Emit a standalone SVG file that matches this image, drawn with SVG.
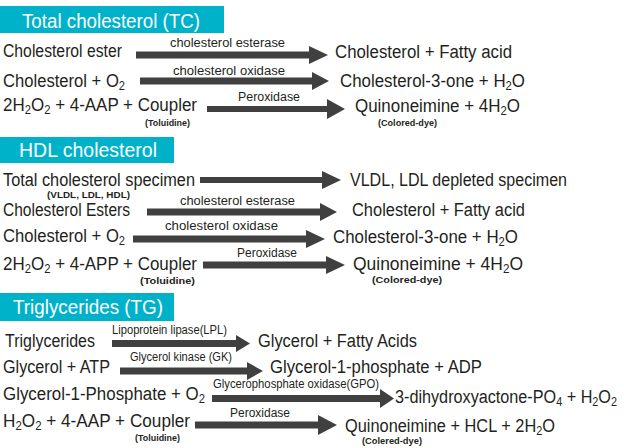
<svg xmlns="http://www.w3.org/2000/svg" width="624" height="448" viewBox="0 0 624 448">
<style>
.t{font-family:"Liberation Sans",Arial,sans-serif;font-size:18px;fill:#231f20}
.l{font-family:"Liberation Sans",Arial,sans-serif;font-size:12.5px;fill:#231f20}
.s{font-family:"Liberation Sans",Arial,sans-serif;font-size:8.5px;font-weight:bold;fill:#231f20}
.h{font-family:"Liberation Sans",Arial,sans-serif;font-size:20px;fill:#ffffff}
.hb{fill:#00b2c9}
.arr{fill:#404040}
</style>
<rect width="624" height="448" fill="#ffffff"/>

<g id="header-tc"><rect class="hb" x="0" y="6" width="224" height="27"/><text class="h" x="22" y="28" textLength="178" lengthAdjust="spacingAndGlyphs">Total cholesterol (TC)</text></g>
<g id="header-hdl"><rect class="hb" x="0" y="137" width="174" height="26"/><text class="h" x="19" y="157" textLength="138" lengthAdjust="spacingAndGlyphs">HDL cholesterol</text></g>
<g id="header-tg"><rect class="hb" x="0" y="293" width="174" height="28"/><text class="h" x="13" y="314" textLength="150" lengthAdjust="spacingAndGlyphs">Triglycerides (TG)</text></g>

<g id="connectors">
<path class="arr" d="M136,51.5H309V46L328,55L309,64V58.5H136Z"/>
<path class="arr" d="M140,77.5H312V72L329,81L312,90V84.5H140Z"/>
<path class="arr" d="M207,106H327V99L345,109L327,119V112H207Z"/>
<path class="arr" d="M200,177H322V171L341,180L322,189V183H200Z"/>
<path class="arr" d="M147,208.5H320V203L337,212L320,221V215.5H147Z"/>
<path class="arr" d="M133,235.5H306V230L325,239L306,248V242.5H133Z"/>
<path class="arr" d="M203,261.5H326V256L345,265L326,274V268.5H203Z"/>
<path class="arr" d="M112,340H236V335L250,343.5L236,352V347H112Z"/>
<path class="arr" d="M120,367.5H247V362L263,371L247,380V374.5H120Z"/>
<path class="arr" d="M212,395H380V389L394,398.5L380,408V402H212Z"/>
<path class="arr" d="M195,421.5H318V415L337,425L318,435V428.5H195Z"/>
</g>

<g id="tc-r1">
<text class="t" x="3" y="57" textLength="119" lengthAdjust="spacingAndGlyphs">Cholesterol ester</text>
<text class="l" x="170" y="47" textLength="115" lengthAdjust="spacingAndGlyphs">cholesterol esterase</text>
<text class="t" x="335" y="58" textLength="177" lengthAdjust="spacingAndGlyphs">Cholesterol + Fatty acid</text>
</g>
<g id="tc-r2">
<text class="t" x="3" y="87" textLength="122" lengthAdjust="spacingAndGlyphs">Cholesterol + O<tspan font-size="12" dy="3">2</tspan></text>
<text class="l" x="173" y="75" textLength="112" lengthAdjust="spacingAndGlyphs">cholesterol oxidase</text>
<text class="t" x="340" y="87" textLength="185" lengthAdjust="spacingAndGlyphs">Cholesterol-3-one + H<tspan font-size="12" dy="3">2</tspan><tspan dy="-3">O</tspan></text>
</g>
<g id="tc-r3">
<text class="t" x="3" y="111" textLength="194" lengthAdjust="spacingAndGlyphs">2H<tspan font-size="12" dy="3">2</tspan><tspan dy="-3">O</tspan><tspan font-size="12" dy="3">2</tspan><tspan dy="-3"> + 4-AAP + Coupler</tspan></text>
<text class="s" x="145" y="126" textLength="45" lengthAdjust="spacingAndGlyphs">(Toluidine)</text>
<text class="l" x="238" y="101" textLength="62" lengthAdjust="spacingAndGlyphs">Peroxidase</text>
<text class="t" x="355" y="112" textLength="165" lengthAdjust="spacingAndGlyphs">Quinoneimine + 4H<tspan font-size="12" dy="3">2</tspan><tspan dy="-3">O</tspan></text>
<text class="s" x="378" y="126" textLength="59" lengthAdjust="spacingAndGlyphs">(Colored-dye)</text>
</g>

<g id="hdl-r1">
<text class="t" x="3" y="186" textLength="192" lengthAdjust="spacingAndGlyphs">Total cholesterol specimen</text>
<text class="s" x="47" y="198" font-size="9" textLength="83" lengthAdjust="spacingAndGlyphs">(VLDL, LDL, HDL)</text>
<text class="t" x="350" y="186" textLength="217" lengthAdjust="spacingAndGlyphs">VLDL, LDL depleted specimen</text>
</g>
<g id="hdl-r2">
<text class="t" x="3" y="216" textLength="127" lengthAdjust="spacingAndGlyphs">Cholesterol Esters</text>
<text class="l" x="180" y="205" textLength="115" lengthAdjust="spacingAndGlyphs">cholesterol esterase</text>
<text class="t" x="352" y="216" textLength="173" lengthAdjust="spacingAndGlyphs">Cholesterol + Fatty acid</text>
</g>
<g id="hdl-r3">
<text class="t" x="3" y="242" textLength="122" lengthAdjust="spacingAndGlyphs">Cholesterol + O<tspan font-size="12" dy="3">2</tspan></text>
<text class="l" x="165" y="230" textLength="113" lengthAdjust="spacingAndGlyphs">cholesterol oxidase</text>
<text class="t" x="333" y="243" textLength="185" lengthAdjust="spacingAndGlyphs">Cholesterol-3-one + H<tspan font-size="12" dy="3">2</tspan><tspan dy="-3">O</tspan></text>
</g>
<g id="hdl-r4">
<text class="t" x="3" y="270" textLength="194" lengthAdjust="spacingAndGlyphs">2H<tspan font-size="12" dy="3">2</tspan><tspan dy="-3">O</tspan><tspan font-size="12" dy="3">2</tspan><tspan dy="-3"> + 4-APP + Coupler</tspan></text>
<text class="s" x="140" y="284" font-size="9" textLength="55" lengthAdjust="spacingAndGlyphs">(Toluidine)</text>
<text class="l" x="237" y="257" textLength="60" lengthAdjust="spacingAndGlyphs">Peroxidase</text>
<text class="t" x="353" y="270" textLength="170" lengthAdjust="spacingAndGlyphs">Quinoneimine  + 4H<tspan font-size="12" dy="3">2</tspan><tspan dy="-3">O</tspan></text>
<text class="s" x="372" y="283" font-size="9" textLength="70" lengthAdjust="spacingAndGlyphs">(Colored-dye)</text>
</g>

<g id="tg-r1">
<text class="t" x="5" y="347" textLength="90" lengthAdjust="spacingAndGlyphs">Triglycerides</text>
<text class="l" x="112" y="334" font-size="11.5" textLength="115" lengthAdjust="spacingAndGlyphs">Lipoprotein lipase(LPL)</text>
<text class="t" x="258" y="347" textLength="159" lengthAdjust="spacingAndGlyphs">Glycerol + Fatty Acids</text>
</g>
<g id="tg-r2">
<text class="t" x="3" y="373" textLength="107" lengthAdjust="spacingAndGlyphs">Glycerol + ATP</text>
<text class="l" x="130" y="361" font-size="11.5" textLength="102" lengthAdjust="spacingAndGlyphs">Glycerol kinase (GK)</text>
<text class="t" x="270" y="373" textLength="212" lengthAdjust="spacingAndGlyphs">Glycerol-1-phosphate + ADP</text>
</g>
<g id="tg-r3">
<text class="t" x="3" y="400" textLength="202" lengthAdjust="spacingAndGlyphs">Glycerol-1-Phosphate + O<tspan font-size="12" dy="3">2</tspan></text>
<text class="l" x="213" y="388" font-size="11.5" textLength="166" lengthAdjust="spacingAndGlyphs">Glycerophosphate oxidase(GPO)</text>
<text class="t" x="395" y="403" textLength="222" lengthAdjust="spacingAndGlyphs">3-dihydroxyactone-PO<tspan font-size="12" dy="3">4</tspan><tspan dy="-3"> +  H</tspan><tspan font-size="12" dy="3">2</tspan><tspan dy="-3">O</tspan><tspan font-size="12" dy="3">2</tspan></text>
</g>
<g id="tg-r4">
<text class="t" x="3" y="427" textLength="187" lengthAdjust="spacingAndGlyphs">H<tspan font-size="12" dy="3">2</tspan><tspan dy="-3">O</tspan><tspan font-size="12" dy="3">2</tspan><tspan dy="-3"> + 4-AAP + Coupler</tspan></text>
<text class="s" x="135" y="441" textLength="45" lengthAdjust="spacingAndGlyphs">(Toluidine)</text>
<text class="l" x="230" y="417" textLength="60" lengthAdjust="spacingAndGlyphs">Peroxidase</text>
<text class="t" x="345" y="432" textLength="210" lengthAdjust="spacingAndGlyphs">Quinoneimine + HCL + 2H<tspan font-size="12" dy="3">2</tspan><tspan dy="-3">O</tspan></text>
<text class="s" x="362" y="444" textLength="60" lengthAdjust="spacingAndGlyphs">(Colered-dye)</text>
</g>
</svg>
